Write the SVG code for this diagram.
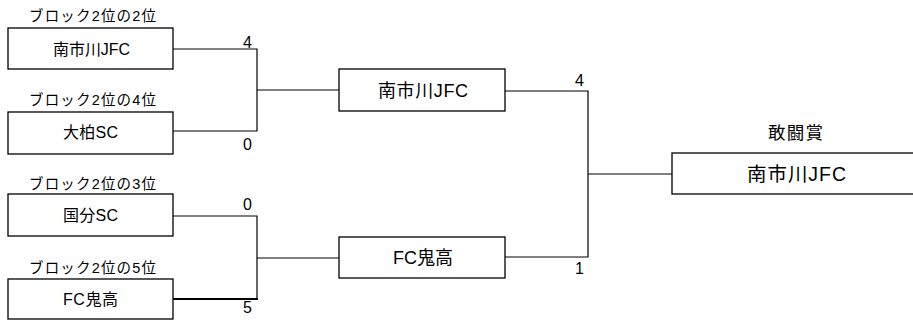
<svg xmlns="http://www.w3.org/2000/svg" width="913" height="320" viewBox="0 0 913 320">
<style>
text{font-family:"Liberation Sans","Noto Sans CJK JP",sans-serif;fill:#000}
.box{fill:#fff;stroke:#000;stroke-width:1.3}
.ln{fill:none;stroke:#000;stroke-width:1.2}
.thick{fill:none;stroke:#000;stroke-width:2.2}
.lbl{font-size:14.5px}
.t1{font-size:16px;text-anchor:middle}
.t2{font-size:18px;text-anchor:middle}
.tt{font-size:17.5px;text-anchor:middle}
.t3{font-size:19.5px;text-anchor:middle}
.sc{font-size:16px;text-anchor:middle}
</style>
<rect width="913" height="320" fill="#fff"/>
<g id="connectors">
<polyline class="ln" points="173,49 257,49 257,131 173,131"/>
<line class="ln" x1="257" y1="90" x2="339" y2="90"/>
<polyline class="ln" points="173,216 257,216 257,299"/>
<line class="thick" x1="173" y1="299" x2="258" y2="299"/>
<line class="ln" x1="257" y1="258" x2="339" y2="258"/>
<polyline class="ln" points="505,91 588,91 588,257 505,257"/>
<line class="ln" x1="588" y1="174" x2="672" y2="174"/>
</g>
<g id="scores">
<text class="sc" x="247.5" y="48">4</text>
<text class="sc" x="247.5" y="150">0</text>
<text class="sc" x="247.5" y="210">0</text>
<text class="sc" x="247.5" y="313">5</text>
<text class="sc" x="579.5" y="86">4</text>
<text class="sc" x="579.5" y="274">1</text>
</g>
<g id="n1">
<text class="lbl" x="29" y="21" textLength="127" lengthAdjust="spacing">ブロック2位の2位</text>
<rect class="box" x="8" y="28" width="165" height="41"/>
<text class="t1" x="91.5" y="55" textLength="77" lengthAdjust="spacing">南市川JFC</text>
</g>
<g id="n2">
<text class="lbl" x="29" y="105" textLength="127" lengthAdjust="spacing">ブロック2位の4位</text>
<rect class="box" x="8" y="112" width="165" height="42"/>
<text class="t1" x="90.5" y="138" textLength="55" lengthAdjust="spacing">大柏SC</text>
</g>
<g id="n3">
<text class="lbl" x="29" y="189" textLength="127" lengthAdjust="spacing">ブロック2位の3位</text>
<rect class="box" x="8" y="194" width="165" height="42"/>
<text class="t1" x="90.5" y="221" textLength="55" lengthAdjust="spacing">国分SC</text>
</g>
<g id="n4">
<text class="lbl" x="29" y="273" textLength="127" lengthAdjust="spacing">ブロック2位の5位</text>
<rect class="box" x="8" y="279" width="165" height="40"/>
<text class="t1" x="90.5" y="305" textLength="55" lengthAdjust="spacing">FC鬼高</text>
</g>
<g id="n5">
<rect class="box" x="339" y="69" width="166" height="42"/>
<text class="t2" x="423" y="97" textLength="90" lengthAdjust="spacing">南市川JFC</text>
</g>
<g id="n6">
<rect class="box" x="339" y="237" width="166" height="41"/>
<text class="t2" x="423" y="264" textLength="60" lengthAdjust="spacing">FC鬼高</text>
</g>
<g id="n7">
<text class="tt" x="795.5" y="139" textLength="55" lengthAdjust="spacing">敢闘賞</text>
<rect class="box" x="672" y="153" width="250" height="41"/>
<text class="t3" x="796.5" y="181" textLength="99" lengthAdjust="spacing">南市川JFC</text>
</g>
</svg>
